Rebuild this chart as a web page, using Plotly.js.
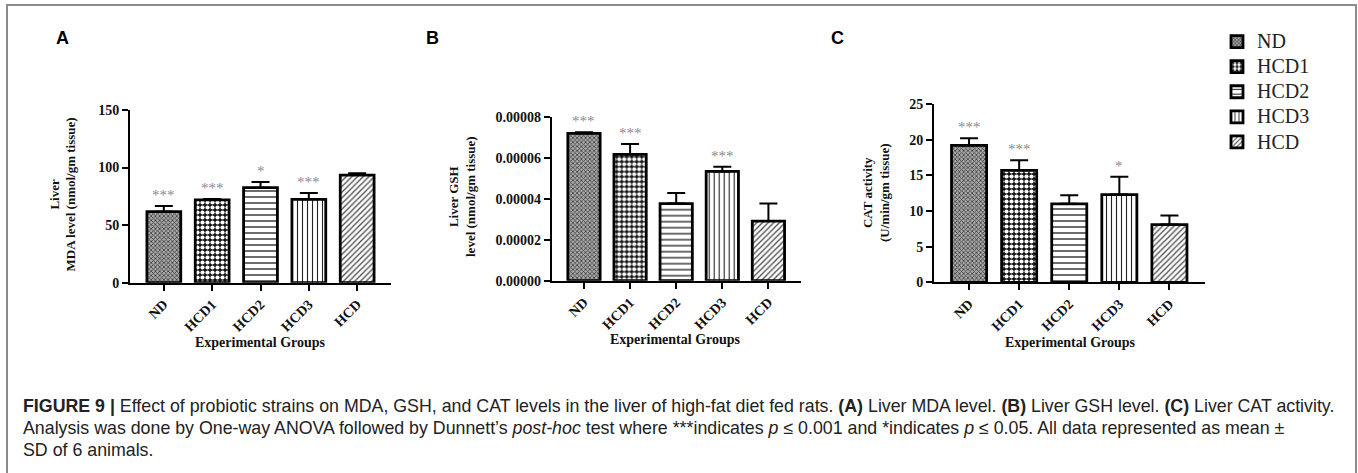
<!DOCTYPE html>
<html>
<head>
<meta charset="utf-8">
<script src="https://cdn.plot.ly/plotly-3.0.1.min.js"></script>
<style>
  html, body { margin: 0; padding: 0; background: #ffffff; }
  #chart { width: 1358px; height: 473px; }
</style>
</head>
<body>
<div id="chart"></div>
<script>
// ---- data ----
const categories = ['ND', 'HCD1', 'HCD2', 'HCD3', 'HCD'];

const mdaMean = [61.7, 72.0, 82.5, 72.4, 93.5];
const mdaSD   = [5.0, 0.6, 5.0, 5.5, 1.5];
const mdaStars = ['***', '***', '*', '***', ''];

const gshMean = [0.0000719, 0.0000616, 0.0000376, 0.0000533, 0.0000291];
const gshSD   = [0.0000005, 0.0000051, 0.0000052, 0.0000023, 0.0000086];
const gshStars = ['***', '***', '', '***', ''];

const catMean = [19.2, 15.7, 11.0, 12.3, 8.1];
const catSD   = [1.0, 1.4, 1.2, 2.5, 1.25];
const catStars = ['***', '***', '', '*', ''];

const mdaTicks = [0, 50, 100, 150];
const gshTicks = [0, 0.00002, 0.00004, 0.00006, 0.00008];
const catTicks = [0, 5, 10, 15, 20, 25];

// ---- styles ----
const W = 1358, H = 473;
const px = v => v / W;
const py = v => 1 - v / H;
const SERIF = 'Liberation Serif, Times New Roman, serif';
const SANS = 'Liberation Sans, Arial, sans-serif';

const patterns = [
  {shape: 'x', size: 3, solidity: 0.45, fgcolor: '#3a3a3a', bgcolor: '#a8a8a8', fillmode: 'replace'},
  {shape: '.', size: 5, solidity: 0.55, fgcolor: '#ffffff', bgcolor: '#111111', fillmode: 'replace'},
  {shape: '-', size: 6, solidity: 0.22, fgcolor: '#222222', bgcolor: '#ffffff', fillmode: 'replace'},
  {shape: '|', size: 5, solidity: 0.22, fgcolor: '#222222', bgcolor: '#ffffff', fillmode: 'replace'},
  {shape: '/', size: 4, solidity: 0.35, fgcolor: '#555555', bgcolor: '#ffffff', fillmode: 'replace'}
];

const panels = [
  {mean: mdaMean, sd: mdaSD, stars: mdaStars, xa: 'x', ya: 'y'},
  {mean: gshMean, sd: gshSD, stars: gshStars, xa: 'x2', ya: 'y2'},
  {mean: catMean, sd: catSD, stars: catStars, xa: 'x3', ya: 'y3'}
];

const traces = [];
const annotations = [];

panels.forEach((p, pi) => {
  categories.forEach((c, i) => {
    traces.push({
      type: 'bar',
      x: [c],
      y: [p.mean[i]],
      xaxis: p.xa,
      yaxis: p.ya,
      name: '<span style="font-size:20px">' + c + '</span>',
      legendgroup: c,
      showlegend: pi === 0,
      width: 0.7,
      marker: {
        color: '#ffffff',
        pattern: patterns[i],
        line: {color: '#000000', width: 2.8}
      },
      error_y: {
        type: 'data', symmetric: false,
        array: [p.sd[i]], arrayminus: [0],
        color: '#000000', thickness: 2, width: 9
      },
      hoverinfo: 'x+y'
    });
    if (p.stars[i]) {
      annotations.push({
        xref: p.xa, yref: p.ya,
        x: c, y: p.mean[i] + p.sd[i],
        text: p.stars[i], showarrow: false,
        yanchor: 'middle', yshift: 11,
        font: {family: SERIF, size: 15, color: '#8a8a8a'}
      });
    }
  });
});

function txt(x, y, text, opts) {
  return Object.assign({
    xref: 'paper', yref: 'paper', x: px(x), y: py(y), text: text,
    showarrow: false, xanchor: 'center', yanchor: 'middle'
  }, opts || {});
}

// panel letters
annotations.push(txt(62, 38, '<b>A</b>', {font: {family: SANS, size: 18, color: '#000'}}));
annotations.push(txt(432, 38, '<b>B</b>', {font: {family: SANS, size: 18, color: '#000'}}));
annotations.push(txt(837, 38, '<b>C</b>', {font: {family: SANS, size: 18, color: '#000'}}));

// y titles
const ytf = {family: SERIF, size: 13, color: '#111'};
annotations.push(txt(62.5, 195, '<b>Liver</b><br><b>MDA level (nmol/gm tissue)</b>', {textangle: -90, font: ytf}));
annotations.push(txt(462, 197, '<b>Liver GSH</b><br><b>level (nmol/gm tissue)</b>', {textangle: -90, font: ytf}));
annotations.push(txt(876, 193, '<b>CAT activity</b><br><b>(U/min/gm tissue)</b>', {textangle: -90, font: ytf}));

// x titles
const xtf = {family: SERIF, size: 14, color: '#111'};
annotations.push(txt(260, 342, '<b>Experimental Groups</b>', {font: xtf}));
annotations.push(txt(675, 339, '<b>Experimental Groups</b>', {font: xtf}));
annotations.push(txt(1070, 342, '<b>Experimental Groups</b>', {font: xtf}));

// caption
const capf = {family: SANS, size: 17.8, color: '#222'};
const capLines = [
  '<b>FIGURE 9 |</b> Effect of probiotic strains on MDA, GSH, and CAT levels in the liver of high-fat diet fed rats. <b>(A)</b> Liver MDA level. <b>(B)</b> Liver GSH level. <b>(C)</b> Liver CAT activity.',
  'Analysis was done by One-way ANOVA followed by Dunnett\u2019s <i>post-hoc</i> test where ***indicates <i>p</i> \u2264 0.001 and *indicates <i>p</i> \u2264 0.05. All data represented as mean \u00b1',
  'SD of 6 animals.'
];
[406, 428, 450].forEach((yy, k) => {
  annotations.push(txt(21, yy, capLines[k], {xanchor: 'left', align: 'left', font: capf}));
});

function yaxisCfg(dom, range, ticks, fmt, anchor) {
  return {
    domain: dom, range: range, tickvals: ticks, anchor: anchor,
    tickformat: fmt, showgrid: false, zeroline: false,
    showline: true, linecolor: '#000', linewidth: 2,
    ticks: 'outside', ticklen: 6, tickwidth: 2, tickcolor: '#000',
    tickfont: {family: SERIF, size: 14, color: '#111', weight: 'bold'},
    fixedrange: true
  };
}
function xaxisCfg(dom, anchor) {
  return {
    domain: dom, range: [-0.7, 4.7], type: 'category', anchor: anchor,
    categoryorder: 'array', categoryarray: categories,
    showgrid: false, zeroline: false,
    showline: true, linecolor: '#000', linewidth: 2,
    ticks: 'outside', ticklen: 6, tickwidth: 2, tickcolor: '#000',
    tickangle: -45,
    tickfont: {family: SERIF, size: 14, color: '#111', weight: 'bold'},
    fixedrange: true
  };
}

const layout = {
  width: W, height: H,
  margin: {l: 0, r: 0, t: 0, b: 0},
  paper_bgcolor: '#ffffff', plot_bgcolor: 'rgba(0,0,0,0)',
  barmode: 'overlay',
  showlegend: true,
  legend: {
    x: px(1217), y: py(24), xanchor: 'left', yanchor: 'top',
    bgcolor: 'rgba(0,0,0,0)', borderwidth: 0, tracegroupgap: 0,
    font: {family: SERIF, size: 17, color: '#222'}
  },
  xaxis: xaxisCfg([px(130), px(391)], 'y'),
  yaxis: yaxisCfg([py(282.7), py(110)], [0, 150], mdaTicks, 'd', 'x'),
  xaxis2: xaxisCfg([px(551.7), px(800.7)], 'y2'),
  yaxis2: yaxisCfg([py(280.7), py(116.7)], [0, 0.00008], gshTicks, '.5f', 'x2'),
  xaxis3: xaxisCfg([px(934), px(1204.5)], 'y3'),
  yaxis3: yaxisCfg([py(282.3), py(104)], [0, 25], catTicks, 'd', 'x3'),
  annotations: annotations,
  shapes: [{
    type: 'rect', xref: 'paper', yref: 'paper',
    x0: px(7), x1: px(1356), y0: py(490), y1: py(5),
    line: {color: '#8c8c8c', width: 2}, fillcolor: 'rgba(0,0,0,0)', layer: 'below'
  }]
};

Plotly.newPlot('chart', traces, layout, {displayModeBar: false, staticPlot: true});
</script>
</body>
</html>
